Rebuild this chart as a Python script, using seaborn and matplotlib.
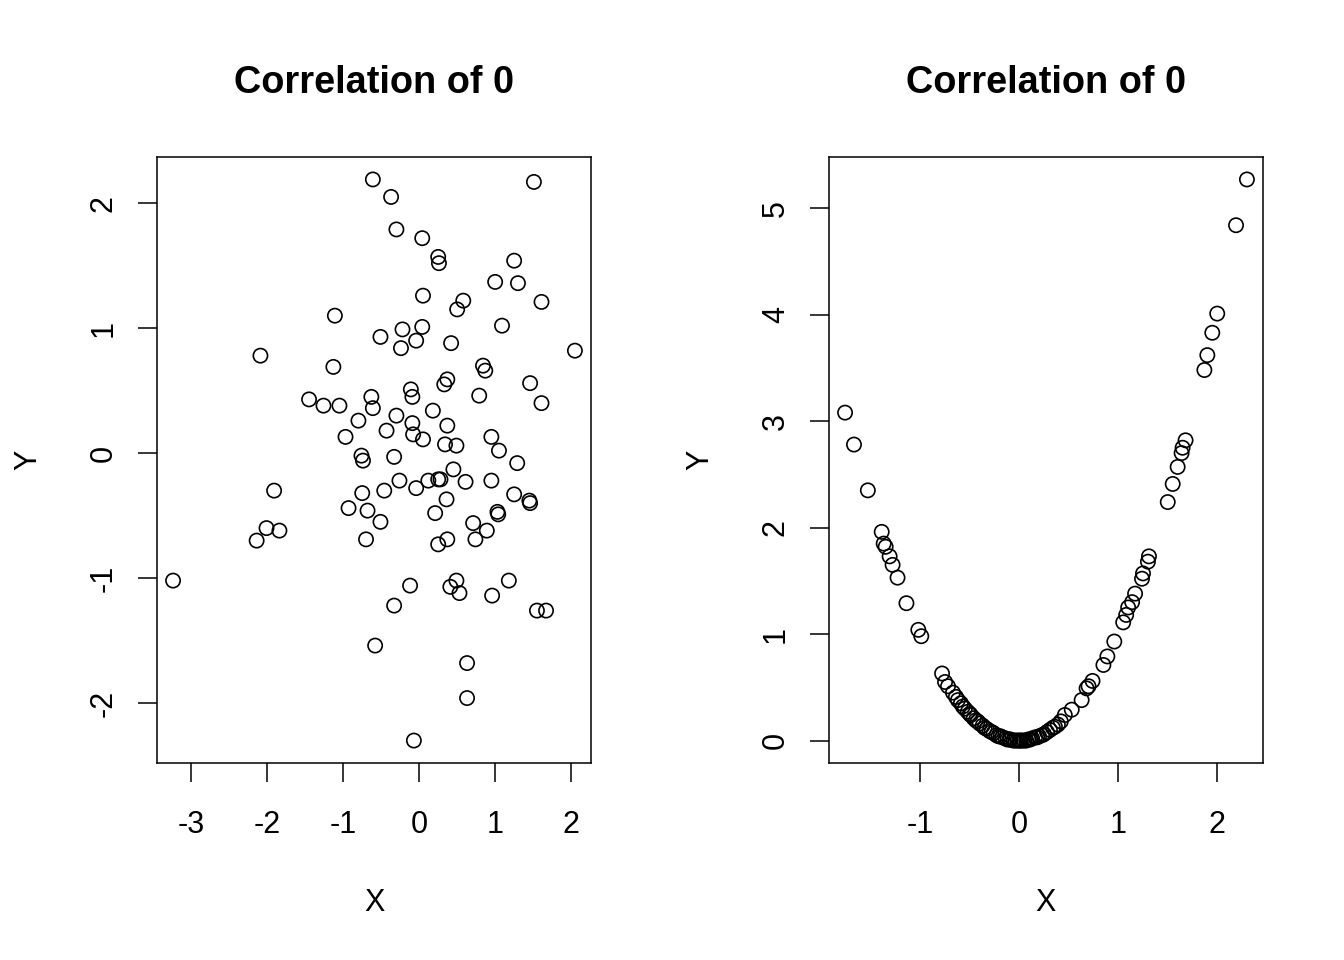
import numpy as np
import pandas as pd
import matplotlib
matplotlib.use("Agg")
import matplotlib.pyplot as plt
import seaborn as sns

# left panel: two independent normal samples
left_x = [-0.61, -0.37, -0.30, 0.04, 0.25, 0.26, 1.51, 1.25, 1.00, 1.30,
          0.05, 0.58, 0.50, 1.61, -1.11, 1.09, -0.22, 0.04, -0.51, -0.24,
          -0.04, 0.42, -2.09, 2.05, -1.13, 0.84, 0.87, 0.37, 0.33, 1.46,
          -0.11, -0.09, -0.63, -0.61, 0.79, -1.45, -1.26, -1.05, 1.61, -0.30,
          0.18, -0.80, -0.09, -0.08, 0.37, -0.43, -0.97, 0.95, 0.05, 0.34,
          0.49, 1.05, -0.76, -0.74, -0.33, 1.29, 0.45, -0.26, 0.12, 0.25,
          0.28, 0.61, 0.95, -1.91, -0.46, -0.75, -0.04, 0.36, 1.25, 1.45,
          1.46, -0.93, -0.68, 1.03, 1.04, 0.21, -0.51, 0.71, 0.89, -2.01,
          -1.84, -2.14, -0.70, 0.37, 0.25, 0.74, -3.24, -0.12, 0.49, 0.41,
          0.53, 1.18, 0.96, -0.33, 1.55, 1.67, -0.58, 0.63, 0.63, -0.07]
left_y = [2.19, 2.05, 1.79, 1.72, 1.57, 1.52, 2.17, 1.54, 1.37, 1.36,
          1.26, 1.22, 1.15, 1.21, 1.10, 1.02, 0.99, 1.01, 0.93, 0.84,
          0.90, 0.88, 0.78, 0.82, 0.69, 0.70, 0.66, 0.59, 0.55, 0.56,
          0.51, 0.45, 0.45, 0.36, 0.46, 0.43, 0.38, 0.38, 0.40, 0.30,
          0.34, 0.26, 0.24, 0.15, 0.22, 0.18, 0.13, 0.13, 0.11, 0.07,
          0.06, 0.02, -0.02, -0.06, -0.03, -0.08, -0.13, -0.22, -0.22, -0.21,
          -0.21, -0.23, -0.22, -0.30, -0.30, -0.32, -0.28, -0.37, -0.33, -0.38,
          -0.40, -0.44, -0.46, -0.47, -0.49, -0.48, -0.55, -0.56, -0.62, -0.60,
          -0.62, -0.70, -0.69, -0.69, -0.73, -0.69, -1.02, -1.06, -1.02, -1.07,
          -1.12, -1.02, -1.14, -1.22, -1.26, -1.26, -1.54, -1.68, -1.96, -2.30]

# right panel: y is the square of x
right_x = [2.30, 2.19, 2.00, 1.95, 1.90, 1.87, 1.68, 1.65, 1.64, 1.60,
           1.55, 1.50, 1.31, 1.30, 1.25, 1.24, 1.17, 1.14, 1.10, 1.08,
           1.05, 0.96, 0.89, 0.85, 0.74, 0.70, 0.68, 0.63, 0.53, 0.46,
           -1.76, -1.67, -1.53, -1.39, -1.37, -1.35, -1.31, -1.28, -1.23, -1.14,
           -1.02, -0.99, -0.78, -0.75, -0.72, -0.67,
           -0.64, -0.62, -0.59, -0.57, -0.55, -0.52, -0.50, -0.49, -0.46, -0.44,
           -0.42, -0.40, -0.37, -0.35, -0.33, -0.30, -0.28, -0.26, -0.23, -0.21,
           -0.19, -0.17, -0.14, -0.12, -0.10, -0.09, -0.06, -0.04, -0.02, 0.00,
           0.01, 0.03, 0.05, 0.07, 0.09, 0.11, 0.13, 0.16, 0.18, 0.20,
           0.23, 0.25, 0.28, 0.31, 0.34, 0.36, 0.39, 0.42]
right_y = [5.27, 4.84, 4.01, 3.83, 3.62, 3.48, 2.82, 2.75, 2.70, 2.57,
           2.41, 2.24, 1.73, 1.68, 1.57, 1.52, 1.38, 1.30, 1.25, 1.18,
           1.11, 0.93, 0.79, 0.71, 0.56, 0.51, 0.49, 0.38, 0.29, 0.24,
           3.08, 2.78, 2.35, 1.96, 1.85, 1.82, 1.73, 1.65, 1.53, 1.29,
           1.04, 0.98, 0.63, 0.55, 0.51, 0.45,
           0.41, 0.38, 0.35, 0.32, 0.30, 0.27, 0.25, 0.24, 0.21, 0.19,
           0.18, 0.16, 0.14, 0.12, 0.11, 0.09, 0.08, 0.07, 0.05, 0.04,
           0.04, 0.03, 0.02, 0.01, 0.01, 0.01, 0.00, 0.00, 0.00, 0.00,
           0.00, 0.00, 0.00, 0.00, 0.01, 0.01, 0.02, 0.03, 0.03, 0.04,
           0.05, 0.06, 0.08, 0.10, 0.12, 0.13, 0.15, 0.18]

left_xticks = [-3, -2, -1, 0, 1, 2]
left_yticks = [-2, -1, 0, 1, 2]
right_xticks = [-1, 0, 1, 2]
right_yticks = [0, 1, 2, 3, 4, 5]

sns.set_style("white")
plt.rcParams['font.family'] = ['Liberation Sans', 'DejaVu Sans']
plt.rcParams['axes.unicode_minus'] = False
plt.rcParams['text.color'] = 'black'
plt.rcParams['axes.labelcolor'] = 'black'
plt.rcParams['xtick.color'] = 'black'
plt.rcParams['ytick.color'] = 'black'

fig = plt.figure(figsize=(13.44, 9.6), dpi=100)
ax1 = fig.add_axes([157 / 1344, 197 / 960, 434 / 1344, 606 / 960])
ax2 = fig.add_axes([829 / 1344, 197 / 960, 434 / 1344, 606 / 960])

panels = [
    (ax1, left_x, left_y, left_xticks, left_yticks),
    (ax2, right_x, right_y, right_xticks, right_yticks),
]

for ax, xs, ys, xt, yt in panels:
    df = pd.DataFrame({"X": xs, "Y": ys})
    sns.scatterplot(data=df, x="X", y="Y", ax=ax, marker="o", s=105,
                    facecolors="none", edgecolor="black", linewidth=1.2)
    ax.collections[0].set_facecolor("none")
    ax.collections[0].set_edgecolor("black")
    ax.margins(x=0.04, y=0.04)
    ax.set_xticks(xt)
    ax.set_yticks(yt)
    for sp in ax.spines.values():
        sp.set_visible(True)
        sp.set_color("black")
        sp.set_linewidth(1.1)
    ax.tick_params(axis="both", direction="out", length=13.5, width=1.1,
                   color="black", labelcolor="black", labelsize=22,
                   bottom=True, left=True)
    ax.tick_params(axis="x", pad=20)
    ax.tick_params(axis="y", pad=14, labelrotation=90)
    for lab in ax.get_yticklabels():
        lab.set_verticalalignment("center")
    ax.set_xlabel("X", fontsize=22, labelpad=35)
    ax.set_ylabel("Y", fontsize=22, labelpad=33)
    ax.set_title("Correlation of 0", fontsize=27.3, fontweight="bold",
                 pad=46, color="black")

fig.savefig("out.png", dpi=100)
